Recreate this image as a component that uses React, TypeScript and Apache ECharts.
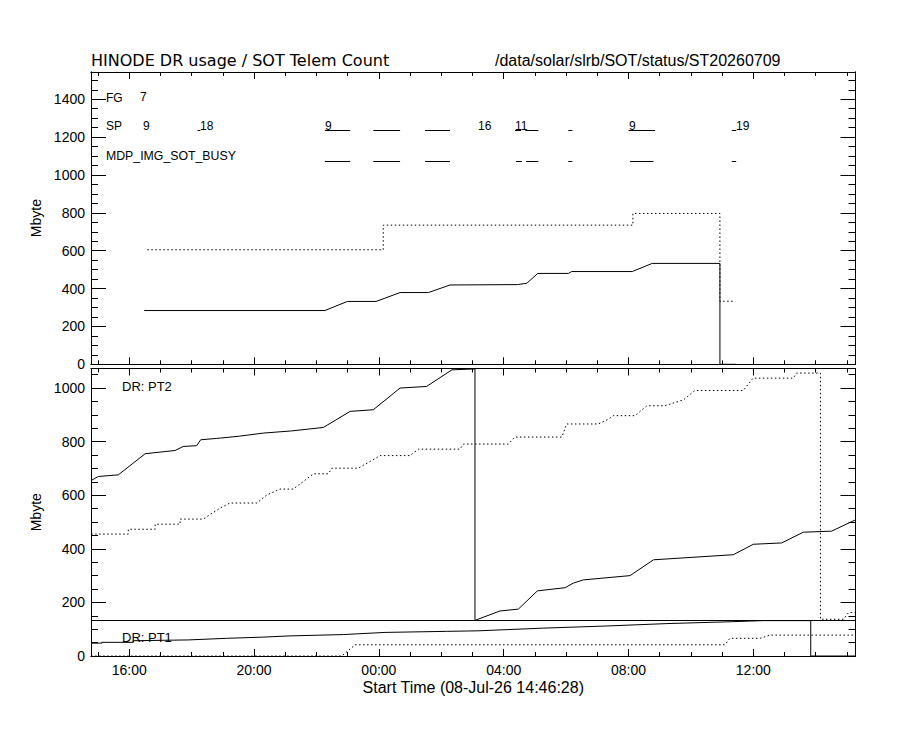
import React, { useEffect, useRef } from "react";
import * as echarts from "echarts";

const FONT = '"Liberation Sans", Arial, Helvetica, sans-serif';
const WIDE_FONT = '"DejaVu Sans", Verdana, sans-serif';

// ---- time axis: hours since 08-Jul-26 00:00 ----
const START_HOUR = 14 + 46 / 60 + 28 / 3600; // 14:46:28
const SPAN_HOURS = 24.5;
const END_HOUR = START_HOUR + SPAN_HOURS;
const X_MAJOR = [16, 20, 24, 28, 32, 36];
const X_MINOR = [15, 16, 17, 18, 19, 20, 21, 22, 23, 24, 25, 26, 27, 28, 29, 30, 31, 32, 33, 34, 35, 36, 37, 38, 39];

// ---- y axes ----
const TOP_Y_MAX = 1544;
const TOP_Y_MAJOR = [0, 200, 400, 600, 800, 1000, 1200, 1400];
const TOP_Y_MINOR = [0, 50, 100, 150, 200, 250, 300, 350, 400, 450, 500, 550, 600, 650, 700, 750, 800, 850, 900, 950, 1000, 1050, 1100, 1150, 1200, 1250, 1300, 1350, 1400, 1450, 1500];
const DR_Y_MAX = 1073;
const DR_Y_MAJOR = [0, 200, 400, 600, 800, 1000];
const DR_Y_MINOR = [0, 50, 100, 150, 200, 250, 300, 350, 400, 450, 500, 550, 600, 650, 700, 750, 800, 850, 900, 950, 1000, 1050];
const PT1_CAPACITY = 133;

// ---- top panel: SOT telemetry count ----
const TELEM_SOLID_T = [16.48, 22.27, 22.99, 23.91, 24.68, 25.59, 26.28, 28.44, 28.74, 29.09, 30.07, 30.18, 32.12, 32.76, 34.93, 34.93, 35.45];
const TELEM_SOLID_MB = [284, 284, 332, 332, 379, 379, 419, 421, 428, 480, 480, 490, 490, 533, 533, 0, 0];
const TELEM_DOT_T = [16.58, 24.14, 24.14, 32.14, 32.14, 34.93, 34.93, 35.41];
const TELEM_DOT_MB = [605, 605, 735, 735, 797, 797, 333, 333];

// ---- observation rows (top panel) ----
const FG_T = [16.35];
const FG_N = [7];
const SP_T = [16.45, 18.28, 22.27, 27.19, 28.36, 32.0, 35.45];
const SP_N = [9, 18, 9, 16, 11, 9, 19];
const SP_SEG_START = [18.19, 22.27, 23.82, 25.48, 28.36, 28.69, 30.07, 32.0, 35.31];
const SP_SEG_END = [18.28, 23.08, 24.68, 26.28, 28.56, 29.11, 30.2, 32.85, 35.45];
const MDP_SEG_START = [22.27, 23.82, 25.48, 28.39, 28.72, 30.07, 32.05, 35.31];
const MDP_SEG_END = [23.08, 24.68, 26.28, 28.58, 29.11, 30.2, 32.8, 35.45];
const FG_ROW = 1410;
const SP_ROW = 1235;
const MDP_ROW = 1075;

// ---- lower panel: DR PT2 ----
const PT2_SOLID_T = [14.78, 15.01, 15.65, 16.51, 17.47, 17.73, 18.16, 18.29, 18.8, 19.5, 20.3, 21.2, 22.22, 23.08, 23.82, 24.68, 25.53, 26.34, 26.98, 27.08, 27.08, 27.88, 28.47, 29.08, 29.97, 30.23, 30.55, 32.05, 32.8, 35.36, 36.0, 36.91, 37.6, 38.51, 39.27];
const PT2_SOLID_MB = [655, 670, 676, 755, 767, 782, 785, 807, 812, 820, 832, 840, 853, 913, 919, 1000, 1006, 1068, 1071, 1071, 133, 168, 175, 243, 255, 272, 284, 300, 359, 378, 417, 422, 462, 466, 508];
const PT2_DOT_T = [14.78, 15.97, 15.97, 16.83, 16.83, 17.63, 17.63, 18.37, 18.91, 19.23, 20.09, 20.41, 20.83, 21.26, 21.9, 22.38, 22.49, 23.34, 24.04, 25.0, 25.27, 26.6, 26.71, 28.15, 28.36, 29.86, 30.02, 31.03, 31.36, 31.51, 32.21, 32.59, 33.17, 33.76, 34.13, 35.68, 35.99, 37.28, 37.39, 38.15, 38.15, 38.89, 39.05, 39.27];
const PT2_DOT_MB = [455, 455, 473, 473, 492, 492, 511, 511, 552, 571, 571, 601, 623, 623, 680, 680, 701, 701, 748, 748, 772, 772, 791, 791, 817, 817, 866, 866, 884, 897, 897, 934, 934, 956, 991, 991, 1037, 1037, 1056, 1056, 137, 137, 162, 162];

// ---- lower panel: DR PT1 ----
const PT1_SOLID_T = [14.78, 15.12, 15.12, 16.13, 16.13, 17.89, 19.12, 20.19, 21.15, 22.86, 24.2, 26.17, 27.18, 29.27, 31.3, 33.23, 35.31, 36.32, 37.84, 37.84, 39.27];
const PT1_SOLID_MB = [48, 48, 51, 51, 57, 60, 66, 70, 75, 80, 88, 92, 94, 104, 112, 121, 128, 132, 132, 0, 0];
const PT1_DOT_T = [14.78, 22.81, 23.24, 35.09, 35.25, 36.22, 36.54, 39.27];
const PT1_DOT_MB = [0, 0, 42, 42, 66, 66, 78, 78];

const zip = (t: number[], v: number[]) => t.map((x, i) => [x, v[i]]);

const BLACK = "#000000";
const lineStyle = { color: BLACK, width: 1 };
const DOTS = [1.5, 2.5];

function hourLabel(h: number) {
  const hh = Math.round(h) % 24;
  return (hh < 10 ? "0" : "") + hh + ":00";
}

function makeXAxes(gridIndex: number, withLabels: boolean) {
  const base: any = {
    type: "value",
    gridIndex,
    min: START_HOUR,
    max: END_HOUR,
    splitLine: { show: false },
    axisLine: { show: true, onZero: false, lineStyle },
  };
  const major = (position: string, labels: boolean) => ({
    ...base,
    position,
    axisTick: { show: true, inside: true, length: 7, customValues: X_MAJOR, lineStyle },
    axisLabel: labels
      ? {
          show: true,
          customValues: X_MAJOR,
          formatter: (v: number) => hourLabel(v),
          color: BLACK,
          fontSize: 14,
          fontFamily: FONT,
          margin: 7,
        }
      : { show: false },
    ...(labels
      ? {
          name: "Start Time (08-Jul-26 14:46:28)",
          nameLocation: "middle",
          nameGap: 23,
          nameTextStyle: { color: BLACK, fontSize: 16, fontFamily: FONT },
        }
      : {}),
  });
  const minor = (position: string) => ({
    ...base,
    position,
    axisTick: { show: true, inside: true, length: 4, customValues: X_MINOR, lineStyle },
    axisLabel: { show: false },
  });
  return [major("bottom", withLabels), minor("bottom"), major("top", false), minor("top")];
}

function makeYAxes(gridIndex: number, max: number, majors: number[], minors: number[]) {
  const base: any = {
    type: "value",
    gridIndex,
    min: 0,
    max,
    splitLine: { show: false },
    axisLine: { show: true, onZero: false, lineStyle },
  };
  return [
    {
      ...base,
      position: "left",
      axisTick: { show: true, inside: true, length: 15, customValues: majors, lineStyle },
      axisLabel: {
        show: true,
        customValues: majors,
        formatter: (v: number) => String(v),
        color: BLACK,
        fontSize: 14,
        fontFamily: FONT,
        margin: 6,
      },
      name: "Mbyte",
      nameLocation: "middle",
      nameGap: 43,
      nameRotate: 90,
      nameTextStyle: { color: BLACK, fontSize: 14, fontFamily: FONT },
    },
    { ...base, position: "left", axisTick: { show: true, inside: true, length: 7, customValues: minors, lineStyle }, axisLabel: { show: false } },
    { ...base, position: "right", axisTick: { show: true, inside: true, length: 15, customValues: majors, lineStyle }, axisLabel: { show: false } },
    { ...base, position: "right", axisTick: { show: true, inside: true, length: 7, customValues: minors, lineStyle }, axisLabel: { show: false } },
  ];
}

function lineSeries(name: string, xi: number, yi: number, data: number[][], dotted: boolean, extra: any = {}) {
  return {
    name,
    type: "line",
    xAxisIndex: xi,
    yAxisIndex: yi,
    data,
    color: BLACK,
    showSymbol: false,
    symbol: "none",
    lineStyle: { color: BLACK, width: 1, type: dotted ? DOTS : "solid" },
    silent: true,
    ...extra,
  };
}

function segmentSeries(name: string, starts: number[], ends: number[], row: number) {
  return {
    name,
    type: "custom",
    xAxisIndex: 0,
    yAxisIndex: 0,
    silent: true,
    color: BLACK,
    itemStyle: { color: BLACK },
    data: starts.map((s, i) => [s, row, ends[i]]),
    encode: { x: [0, 2], y: 1 },
    renderItem: (_p: any, api: any) => {
      const a = api.coord([api.value(0), api.value(1)]);
      const b = api.coord([api.value(2), api.value(1)]);
      const y = Math.round(a[1]) + 0.5;
      return {
        type: "line",
        shape: { x1: a[0], y1: y, x2: b[0], y2: y },
        style: { stroke: BLACK, lineWidth: 1 },
      };
    },
  };
}

function countSeries(name: string, times: number[], counts: number[], row: number, dy: number) {
  return {
    name,
    type: "custom",
    xAxisIndex: 0,
    yAxisIndex: 0,
    silent: true,
    color: BLACK,
    itemStyle: { color: BLACK },
    data: times.map((t, i) => [t, row, counts[i]]),
    encode: { x: 0, y: 1 },
    renderItem: (_p: any, api: any) => {
      const p = api.coord([api.value(0), api.value(1)]);
      return {
        type: "text",
        x: Math.round(p[0]),
        y: Math.round(p[1] + dy),
        style: {
          text: String(api.value(2)),
          fill: BLACK,
          fontSize: 12,
          fontFamily: FONT,
          align: "left",
          verticalAlign: "middle",
        },
      };
    },
  };
}

function textEl(text: string, x: number, y: number, size: number, family: string = FONT) {
  return {
    type: "text",
    x,
    y,
    silent: true,
    style: { text, fill: BLACK, fontSize: size, fontFamily: family, align: "left", verticalAlign: "middle" },
  };
}

export default function App() {
  const ref = useRef<HTMLDivElement>(null);

  useEffect(() => {
    if (!ref.current) return;
    const chart = echarts.init(ref.current, undefined, { renderer: "svg" });
    const option: any = {
      animation: false,
      backgroundColor: "#fff",
      color: [BLACK],
      grid: [
        { left: 91, top: 72, width: 764.5, height: 292.3, containLabel: false },
        { left: 91, top: 368.5, width: 764.5, height: 287.5, containLabel: false },
      ],
      xAxis: [...makeXAxes(0, false), ...makeXAxes(1, true)],
      yAxis: [
        ...makeYAxes(0, TOP_Y_MAX, TOP_Y_MAJOR, TOP_Y_MINOR),
        ...makeYAxes(1, DR_Y_MAX, DR_Y_MAJOR, DR_Y_MINOR),
      ],
      graphic: [
        textEl("HINODE DR usage / SOT Telem Count", 91, 60.5, 16, WIDE_FONT),
        textEl("/data/solar/slrb/SOT/status/ST20260709", 495, 60.5, 16),
        textEl("FG", 106, 97.5, 12),
        textEl("SP", 106, 126, 12),
        textEl("MDP_IMG_SOT_BUSY", 106, 156, 12.3),
        textEl("DR: PT2", 122, 386, 13),
        textEl("DR: PT1", 122, 637.5, 13),
      ],
      series: [
        lineSeries("Telem total", 0, 0, zip(TELEM_SOLID_T, TELEM_SOLID_MB), false),
        lineSeries("Telem limit", 0, 0, zip(TELEM_DOT_T, TELEM_DOT_MB), true),
        segmentSeries("SP periods", SP_SEG_START, SP_SEG_END, SP_ROW),
        segmentSeries("MDP busy", MDP_SEG_START, MDP_SEG_END, MDP_ROW),
        countSeries("FG count", FG_T, FG_N, FG_ROW, 0),
        countSeries("SP count", SP_T, SP_N, SP_ROW, -4.5),
        lineSeries("PT2", 4, 4, zip(PT2_SOLID_T, PT2_SOLID_MB), false),
        lineSeries("PT2 dotted", 4, 4, zip(PT2_DOT_T, PT2_DOT_MB), true),
        lineSeries("PT1", 4, 4, zip(PT1_SOLID_T, PT1_SOLID_MB), false, {
          markLine: {
            silent: true,
            symbol: "none",
            label: { show: false },
            lineStyle: { color: BLACK, width: 1, type: "solid" },
            data: [{ yAxis: PT1_CAPACITY }],
          },
        }),
        lineSeries("PT1 dotted", 4, 4, zip(PT1_DOT_T, PT1_DOT_MB), true),
      ],
    };
    chart.setOption(option);
    return () => chart.dispose();
  }, []);

  return (
    <div
      ref={ref}
      style={{ position: "absolute", left: 0, top: 0, width: 900, height: 730, background: "#fff" }}
    />
  );
}
